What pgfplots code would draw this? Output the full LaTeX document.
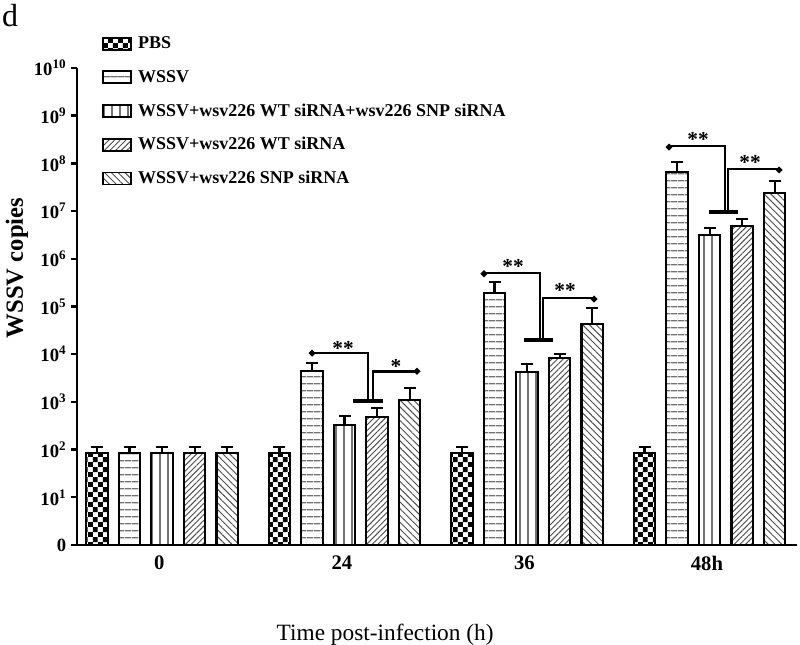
\documentclass[border=0pt]{standalone}
\usepackage{fontspec}
\setmainfont{Liberation Serif}
\usepackage{pgfplots}
\pgfplotsset{compat=1.18}
\usetikzlibrary{patterns,patterns.meta,arrows.meta}

% coarse checkerboard for the PBS bars
\pgfdeclarepatternformonly{bigcheck}{\pgfpointorigin}{\pgfqpoint{7.4pt}{7.4pt}}{\pgfqpoint{7.4pt}{7.4pt}}{%
  \pgfpathrectangle{\pgfpointorigin}{\pgfqpoint{3.7pt}{3.7pt}}%
  \pgfpathrectangle{\pgfqpoint{3.7pt}{3.7pt}}{\pgfqpoint{3.7pt}{3.7pt}}%
  \pgfusepath{fill}}

\tikzset{
  sig/.style={line width=2pt},
  base/.style={line width=3pt},
  star/.style={font=\bfseries\fontsize{16}{16}\selectfont, anchor=base, inner sep=0pt, yshift=-8pt},
}
\pgfplotsset{
  eb/.style={error bars/y dir=plus, error bars/y explicit,
    error bars/error bar style={line width=1.6pt, black, solid},
    error bars/error mark options={rotate=90, mark size=4.5pt, line width=1.6pt, black, solid}},
}

\begin{document}
\begin{tikzpicture}
\begin{axis}[
  at={(0,0)}, anchor=south west,
  width=540pt, height=357.75pt, scale only axis,
  clip=false,
  ymode=log, ymin=1, ymax=1e10,
  xmin=-0.466, xmax=3.479,
  ybar=8.4pt, bar width=16pt,
  legend image code/.code={\draw[#1, line width=1.4pt] (0pt,-4.5pt) rectangle (21pt,4.5pt);},
  axis x line=bottom, axis y line=left,
  axis line style={-, line width=1.8pt},
  tick align=outside, major tick length=4.5pt,
  ytick={1,1e1,1e2,1e3,1e4,1e5,1e6,1e7,1e8,1e9,1e10},
  yticklabels={0,10\textsuperscript{1},10\textsuperscript{2},10\textsuperscript{3},10\textsuperscript{4},10\textsuperscript{5},10\textsuperscript{6},10\textsuperscript{7},10\textsuperscript{8},10\textsuperscript{9},10\textsuperscript{10}},
  yminorticks=false,
  ytick style={line width=1.8pt, black},
  yticklabel style={font=\bfseries\fontsize{14}{14}\selectfont},
  xtick={0,1,2,3}, xticklabels={0,24,36,48h},
  xtick style={draw=none},
  xticklabel style={font=\bfseries\fontsize{15.5}{15.5}\selectfont, xshift=-2pt},
  xlabel={Time post-infection (h)},
  xlabel style={font=\fontsize{17.5}{17.5}\selectfont, at={(axis description cs:0.428,-0.1887)}, anchor=center},
  ylabel={WSSV copies},
  ylabel style={font=\bfseries\fontsize{18.5}{18.5}\selectfont, at={(axis description cs:-0.0833,0.581)}, anchor=center},
  legend style={at={(axis description cs:0.0347,1.071)}, anchor=north west,
    draw=none, fill=none, inner sep=0pt, row sep=10.5pt,
    font=\bfseries\fontsize{13.5}{13.5}\selectfont,
    /tikz/every odd column/.append style={column sep=2.5pt}},
  legend cell align=left,
]
\addplot[draw=black, line width=1.6pt, pattern=bigcheck, pattern color=black, eb]
  coordinates {(0,85) +- (0,28) (1,85) +- (0,28) (2,85) +- (0,28) (3,85) +- (0,28)};
\addplot[draw=black, line width=1.6pt, pattern={Lines[angle=0,distance=5.4pt,line width=1pt]}, pattern color=black!55, eb]
  coordinates {(0,85) +- (0,28) (1,4400) +- (0,2200) (2,190000) +- (0,140000) (3,66000000) +- (0,41000000)};
\addplot[draw=black, line width=1.6pt, pattern={Lines[angle=90,distance=6pt,line width=1pt]}, pattern color=black!55, eb]
  coordinates {(0,85) +- (0,28) (1,330) +- (0,175) (2,4200) +- (0,2000) (3,3200000) +- (0,1200000)};
\addplot[draw=black, line width=1.6pt, pattern={Lines[angle=45,distance=3pt,line width=0.7pt]}, pattern color=black!70, eb]
  coordinates {(0,85) +- (0,28) (1,480) +- (0,265) (2,8300) +- (0,1700) (3,4900000) +- (0,1900000)};
\addplot[draw=black, line width=1.6pt, pattern={Lines[angle=-45,distance=3.6pt,line width=0.7pt]}, pattern color=black!70, eb]
  coordinates {(0,85) +- (0,28) (1,1100) +- (0,850) (2,43000) +- (0,50000) (3,24000000) +- (0,19000000)};
\legend{PBS, WSSV, WSSV+wsv226 WT siRNA+wsv226 SNP siRNA, WSSV+wsv226 WT siRNA, WSSV+wsv226 SNP siRNA}

% significance brackets, 24 h
\draw[sig, {Circle[length=4.5pt]}-] (axis cs:0.822,9100) -- (axis cs:0.822,10600) -- (axis cs:1.129,10600) -- (axis cs:1.129,1050);
\draw[sig, -{Circle[length=4.5pt]}] (axis cs:1.156,1050) -- (axis cs:1.156,4400) -- (axis cs:1.397,4400) -- (axis cs:1.397,3800);
\draw[base] (axis cs:1.047,1050) -- (axis cs:1.211,1050);
\node[star] at (axis cs:0.992,15500) {**};
\node[star] at (axis cs:1.282,6600) {*};
% 36 h
\draw[sig, {Circle[length=4.5pt]}-] (axis cs:1.764,420000) -- (axis cs:1.764,504000) -- (axis cs:2.071,504000) -- (axis cs:2.071,20000);
\draw[sig, -{Circle[length=4.5pt]}] (axis cs:2.088,20000) -- (axis cs:2.088,150000) -- (axis cs:2.367,150000) -- (axis cs:2.367,124000);
\draw[base] (axis cs:1.984,20000) -- (axis cs:2.142,20000);
\node[star] at (axis cs:1.923,820000) {**};
\node[star] at (axis cs:2.208,260000) {**};
% 48 h
\draw[sig, {Circle[length=4.5pt]}-] (axis cs:2.778,190000000) -- (axis cs:2.778,230000000) -- (axis cs:3.085,230000000) -- (axis cs:3.085,9600000);
\draw[sig, -{Circle[length=4.5pt]}] (axis cs:3.101,9600000) -- (axis cs:3.101,76000000) -- (axis cs:3.381,76000000) -- (axis cs:3.381,63000000);
\draw[base] (axis cs:2.997,9600000) -- (axis cs:3.156,9600000);
\node[star] at (axis cs:2.937,370000000) {**};
\node[star] at (axis cs:3.222,124000000) {**};

\node[anchor=base west, inner sep=0pt, font=\fontsize{24}{24}\selectfont] at (axis description cs:-0.1042,1.086) {d};
\end{axis}
\pgfresetboundingbox
\path[use as bounding box] (current axis.south west) ++(-57.75pt,-75pt) rectangle ++(600pt,483.75pt);
\end{tikzpicture}
\end{document}
